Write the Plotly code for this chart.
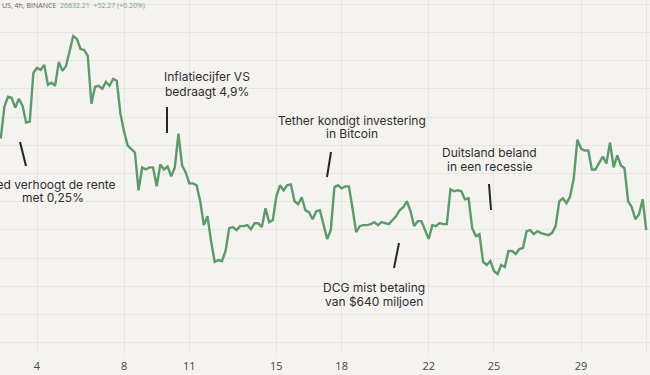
import pandas as pd
import plotly.graph_objects as go

# ---- data (BTC 4h closes, May 2023) ----
start_time = "2023-05-02 08:00"
prices = [
    28120, 28686, 28862, 28845, 28668, 28827, 28703, 28403, 28420, 29286,
    29375, 29339, 29428, 29074, 29110, 29057, 29481, 29322, 29410, 29675,
    29940, 29887, 29710, 29693, 29587, 28739, 29039, 29057, 29004, 29127,
    29057, 29180, 29145, 28562, 28244, 27996, 27926, 27873, 27201, 27608,
    27572, 27608, 27608, 27272, 27661, 27572, 27625, 27449, 27608, 28209,
    27643, 27519, 27325, 27325, 27290, 27007, 26583, 26742, 26300, 25929,
    25965, 25947, 26124, 26530, 26548, 26495, 26565, 26565, 26583, 26512,
    26618, 26618, 26548, 26883, 26636, 26671, 27095, 27290, 27201, 27290,
    27307, 27007, 26954, 27078, 26848, 26813, 26689, 26830, 26848, 26601,
    26336, 26495, 27254, 27290, 27237, 27272, 27272, 26883, 26459, 26565,
    26583, 26583, 26601, 26636, 26583, 26636, 26618, 26601, 26671, 26742,
    26848, 26901, 27007, 26830, 26565, 26654, 26654, 26477, 26336, 26583,
    26565, 26618, 26601, 26601, 27219, 27184, 27201, 27184, 27042, 27060,
    26530, 26389, 26424, 25929, 25876, 25947, 25770, 25717, 25876, 25841,
    26124, 26124, 26071, 26159, 26177, 26477, 26495, 26424, 26477, 26442,
    26424, 26406, 26442, 26565, 27007, 27060, 26972, 27095, 27413, 28102,
    27943, 27908, 27908, 27572, 27572, 27678, 27802, 27678, 28049, 27608,
    27820, 27643, 27590, 27007, 26901, 26689, 26777, 27042, 26495,
]
tick_dates = ["2023-05-04", "2023-05-08", "2023-05-11", "2023-05-15", "2023-05-18",
              "2023-05-22", "2023-05-25", "2023-05-29", "2023-06-01"]
tick_labels = ["4", "8", "11", "15", "18", "22", "25", "29", ""]

events = [
    (["Fed verhoogt de rente", "met 0,25%"], 53, [184, 198], (20, 142, 26, 166)),
    (["Inflatiecijfer VS", "bedraagt 4,9%"], 207.5, [77, 91], (167, 107, 167, 133)),
    (["Tether kondigt investering", "in Bitcoin"], 352, [120, 134], (331, 152, 327, 177)),
    (["DCG mist betaling", "van $640 miljoen"], 373.5, [287, 301], (399, 243, 394, 268)),
    (["Duitsland beland", "in een recessie"], 489.5, [153, 167], (489, 184, 491, 210)),
]

W, H, PH = 650, 375, 354
BG = "#f5f3ef"
GRID = "#e8e5e0"
GREEN = "#5c9a6b"
TEXT = "#2e2e2e"


def px(x):
    return x / W


def py(y):
    return 1 - y / PH


times = pd.date_range(start_time, periods=len(prices), freq="4h")

fig = go.Figure()
fig.add_trace(go.Scatter(
    x=times, y=prices, mode="lines",
    line=dict(color=GREEN, width=2.4, shape="linear"),
    hoverinfo="skip", showlegend=False,
))

annotations = []
shapes = []
for lines, cx, ys, (x0, y0, x1, y1) in events:
    for txt, yy in zip(lines, ys):
        annotations.append(dict(
            x=px(cx), y=py(yy), xref="paper", yref="paper", text=txt,
            showarrow=False, xanchor="center", yanchor="middle",
            font=dict(family="Inter, Noto Sans, sans-serif", size=12, color=TEXT),
        ))
    shapes.append(dict(type="line", xref="paper", yref="paper",
                       x0=px(x0), y0=py(y0), x1=px(x1), y1=py(y1),
                       line=dict(color="#262626", width=2)))

# ticker header
annotations.append(dict(
    x=0, y=py(5), xref="paper", yref="paper",
    text="US, 4h, BINANCE&nbsp;&nbsp;<span style='color:#6aa77a'>26832.21&nbsp;&nbsp;+52.27 (+0.20%)</span>",
    showarrow=False, xanchor="left", yanchor="middle",
    font=dict(family="Open Sans, sans-serif", size=7, color="#666666")))

fig.update_layout(
    width=W, height=H,
    margin=dict(l=0, r=0, t=0, b=H - PH),
    paper_bgcolor=BG, plot_bgcolor=BG,
    annotations=annotations, shapes=shapes,
    xaxis=dict(
        range=["2023-05-02 07:11", "2023-06-01 04:06"],
        tickvals=tick_dates, ticktext=tick_labels,
        showgrid=True, gridcolor=GRID, gridwidth=1,
        zeroline=False, showline=False,
        ticks="outside", ticklen=2, tickcolor="rgba(0,0,0,0)",
        tickfont=dict(family="Open Sans, sans-serif", size=11, color="#444444"),
    ),
    yaxis=dict(
        range=[24296, 30579.5], dtick=500, tick0=0,
        showgrid=True, gridcolor=GRID, gridwidth=1,
        showticklabels=False, zeroline=False, showline=False,
    ),
)

fig.write_html(
    "out.html",
    config={"displayModeBar": False},
    post_script="document.body.style.margin='0';document.body.style.background='%s';" % BG,
)
